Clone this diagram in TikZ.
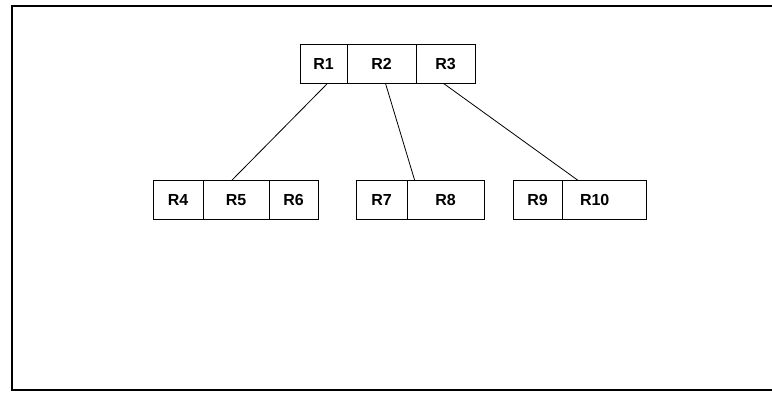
\documentclass[tikz,border=0pt]{standalone}
\usepackage{fontspec}
\setmainfont{Liberation Sans}
\usepackage{tikz}

\tikzset{
  cell/.style={rectangle, draw, line width=0.8pt, minimum height=39pt, inner sep=0pt, font=\fontsize{16}{18}\selectfont\bfseries},
  link/.style={line width=0.8pt}
}

\begin{document}
\begin{tikzpicture}[x=1pt, y=-1pt]
\useasboundingbox (0,0) rectangle (772,392);

% Outer frame (open on the right)
\draw[line width=2.5pt] (772,6) -- (12,6) -- (12,390) -- (772,390);

% Root node
\node[cell, minimum width=47pt] (r1) at (323.5, 63.5) {R1};
\node[cell, minimum width=69pt] (r2) at (381.5, 63.5) {R2};
\node[cell, minimum width=59pt] (r3) at (445.5, 63.5) {R3};

% Leaf nodes
\node[cell, minimum width=50pt] (r4) at (178, 200) {R4};
\node[cell, minimum width=66pt] (r5) at (236, 200) {R5};
\node[cell, minimum width=49pt] (r6) at (293.5, 200) {R6};

\node[cell, minimum width=51pt] (r7) at (381.5, 200) {R7};
\node[cell, minimum width=77pt] (r8) at (445.5, 200) {R8};

\node[cell, minimum width=49pt] (r9) at (537.5, 200) {R9};
\node[cell, text width=48pt, align=left, inner xsep=18pt] (r10) at (604, 200) {R10};

% Links from root to leaves
\draw[link] ([xshift=4pt]r1.south) -- ([xshift=-4pt]r5.north);
\draw[link] ([xshift=4pt]r2.south) -- ([xshift=8pt]r8.north west);
\draw[link] ([xshift=-2pt]r3.south) -- ([xshift=16pt]r10.north west);

\end{tikzpicture}
\end{document}
